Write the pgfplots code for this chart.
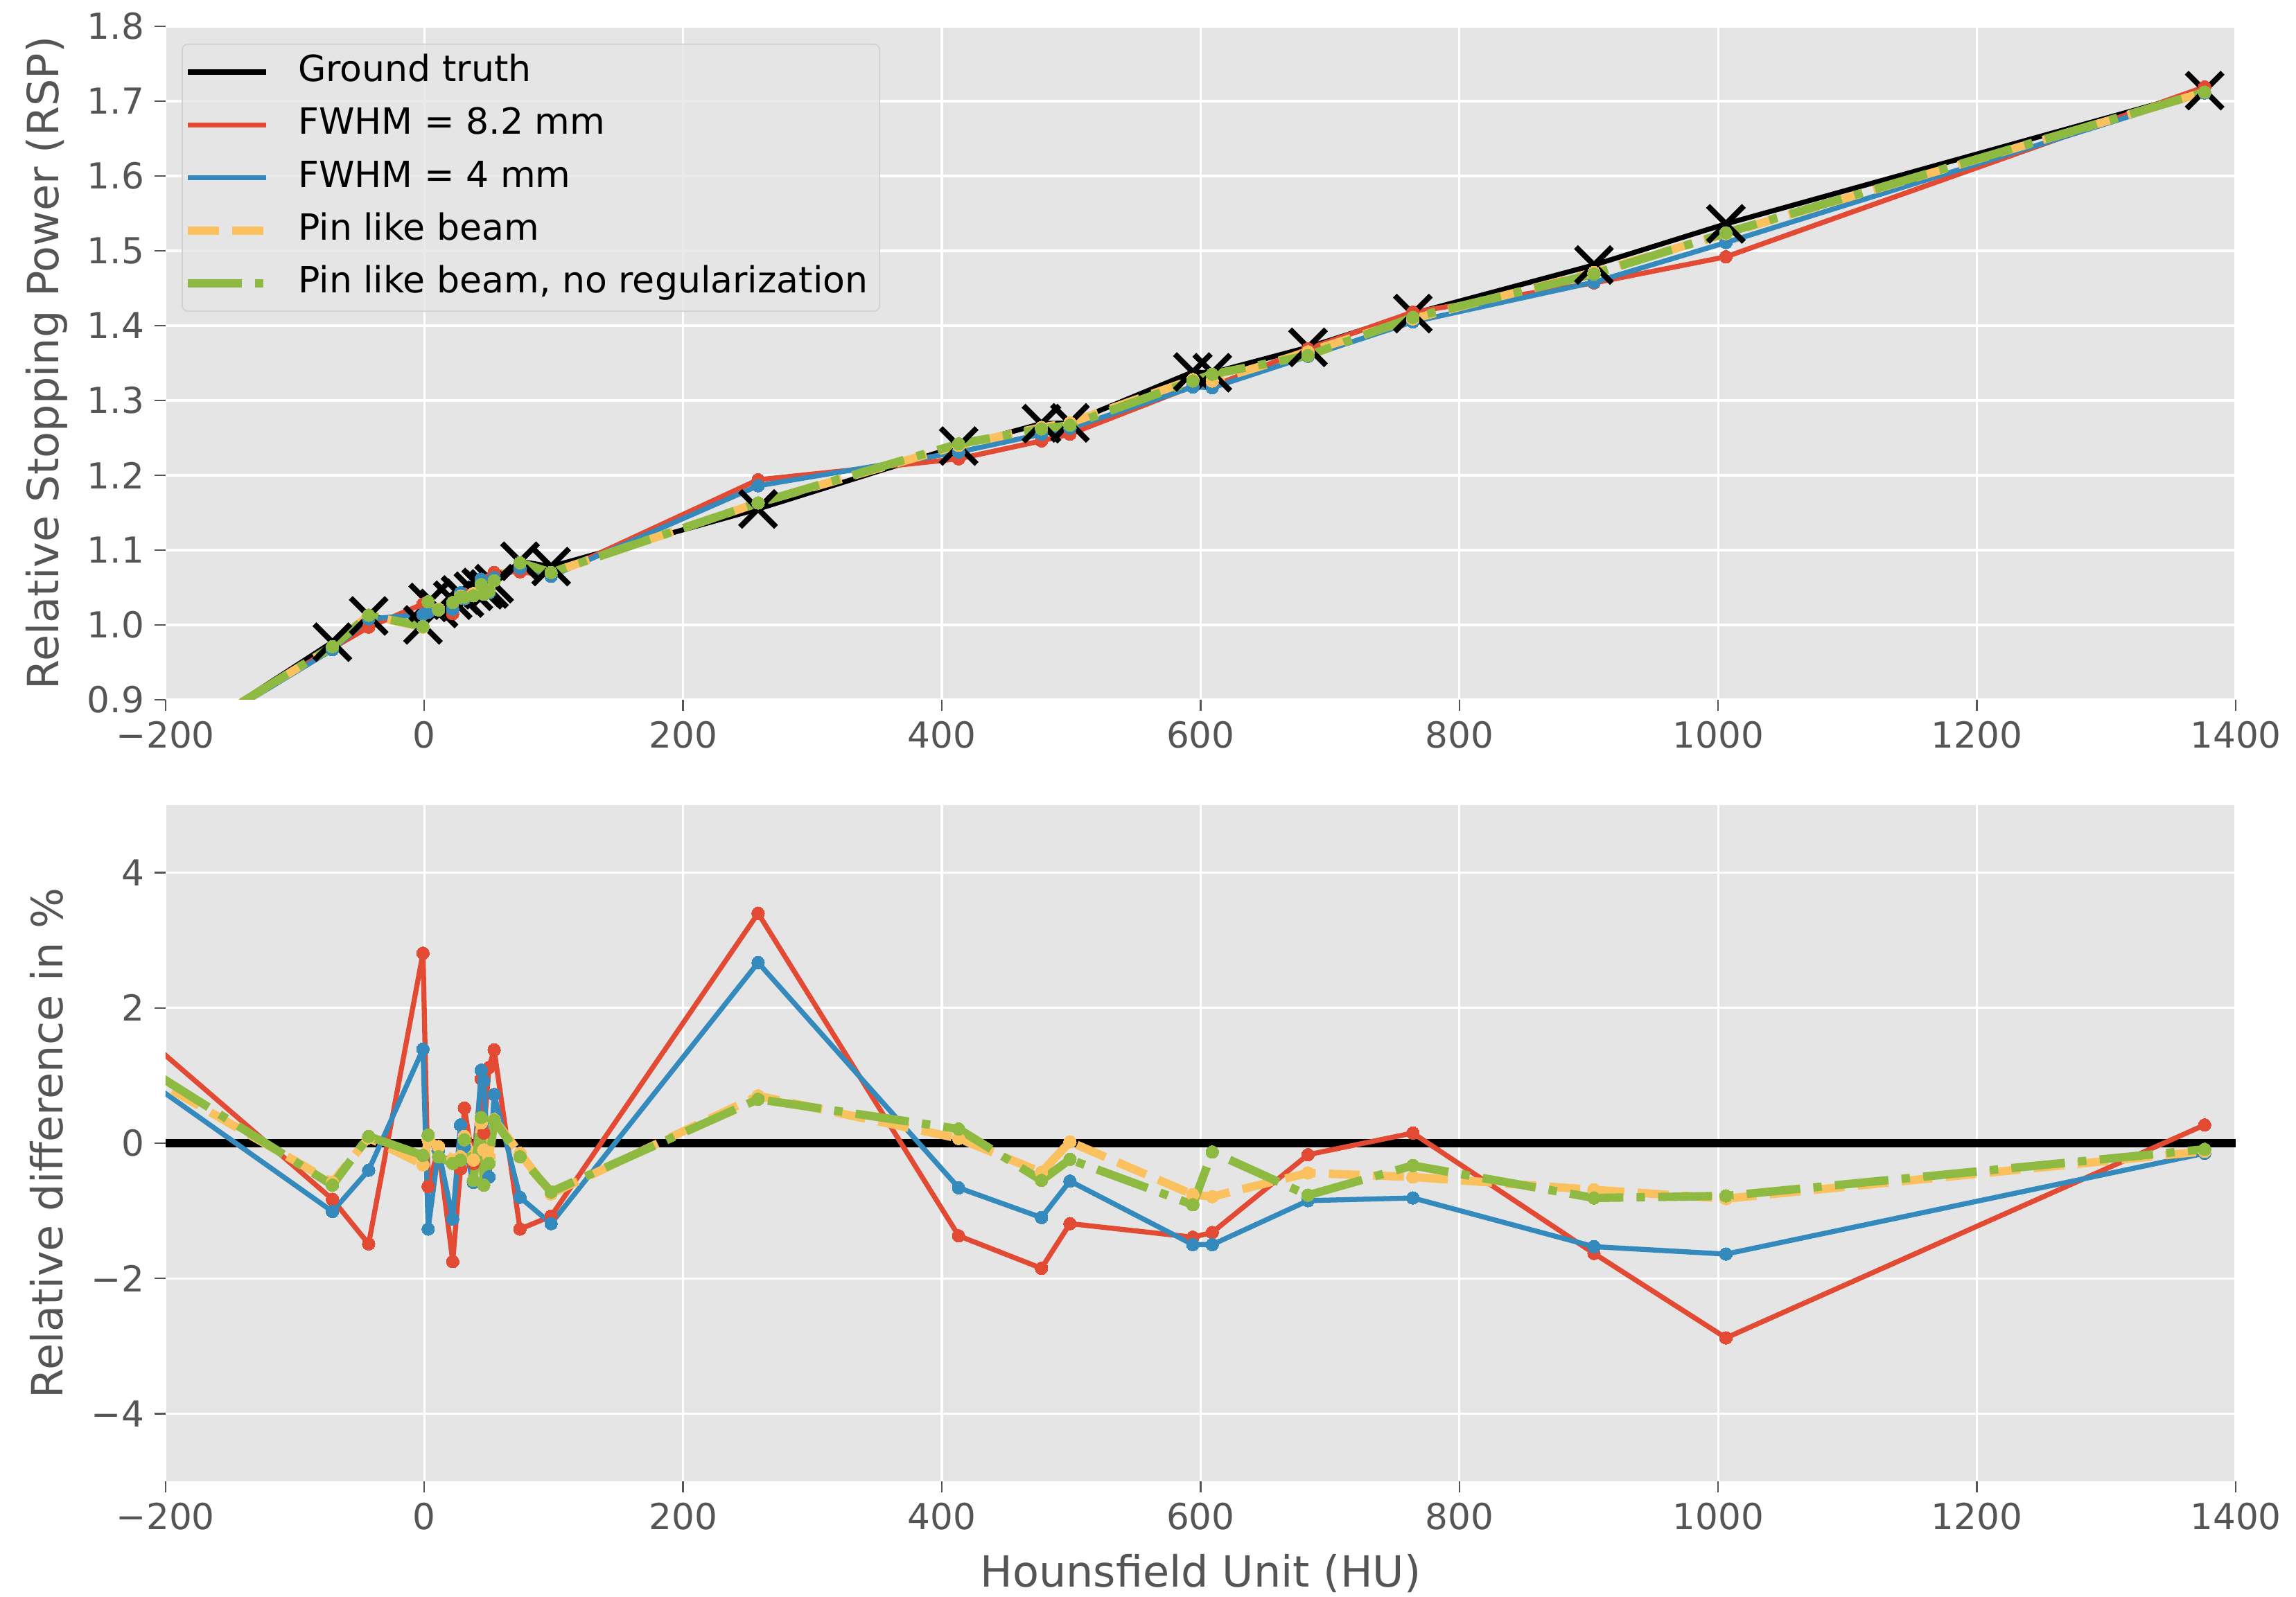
\documentclass[border=0pt]{standalone}
\usepackage{fontspec}
\setmainfont{DejaVu Sans}
\usepackage{pgfplots}
\usepackage{pgfplotstable}
\pgfplotsset{compat=1.18}

\definecolor{panel}{HTML}{E5E5E5}
\definecolor{tickgray}{HTML}{555555}
\definecolor{legedge}{HTML}{D1D1D1}
\definecolor{ggred}{HTML}{E24A33}
\definecolor{ggblue}{HTML}{348ABD}
\definecolor{ggyellow}{HTML}{FBC15E}
\definecolor{gggreen}{HTML}{8EBA42}

% RSP: ground truth and reconstructions
\pgfplotstableread{
hu    gt    red   blue  pin   pinnr
-550  0.440 0.471 0.464 0.461 0.463
-71   0.977 0.969 0.967 0.971 0.971
-43   1.012 0.997 1.008 1.013 1.013
-1    1.000 1.028 1.014 0.997 0.998
3     1.030 1.023 1.017 1.031 1.031
11    1.022 1.021 1.021 1.021 1.020
22    1.033 1.015 1.021 1.030 1.030
28    1.040 1.036 1.043 1.038 1.037
31    1.036 1.041 1.035 1.037 1.037
38    1.045 1.042 1.039 1.042 1.039
44    1.050 1.060 1.061 1.053 1.054
46    1.047 1.049 1.057 1.046 1.041
50    1.048 1.060 1.043 1.046 1.045
54    1.055 1.070 1.063 1.059 1.059
74    1.085 1.071 1.076 1.083 1.083
98    1.078 1.066 1.065 1.070 1.070
258   1.155 1.194 1.186 1.163 1.163
413   1.239 1.222 1.231 1.240 1.242
477   1.269 1.246 1.255 1.264 1.262
499   1.270 1.255 1.263 1.270 1.267
594   1.338 1.319 1.318 1.328 1.326
609   1.337 1.319 1.317 1.326 1.335
683   1.371 1.369 1.359 1.365 1.360
764   1.416 1.418 1.405 1.409 1.411
904   1.481 1.457 1.458 1.471 1.469
1006  1.536 1.492 1.511 1.523 1.524
1376  1.714 1.719 1.711 1.712 1.712
}\rsptable

% relative difference to ground truth in percent
\pgfplotstableread{
hu    red   blue  pin   pinnr
-550  7.08  5.47  4.69  5.14
-71  -0.83 -1.01 -0.58 -0.62
-43  -1.49 -0.40  0.08  0.10
-1    2.81  1.39 -0.32 -0.18
3    -0.64 -1.27  0.05  0.12
11   -0.08 -0.10 -0.05 -0.20
22   -1.75 -1.12 -0.25 -0.30
28   -0.38  0.27 -0.20 -0.25
31    0.52 -0.05  0.10  0.05
38   -0.30 -0.58 -0.25 -0.55
44    0.95  1.08  0.30  0.38
46    0.15  0.92 -0.10 -0.62
50    1.12 -0.50 -0.20 -0.30
54    1.38  0.72  0.35  0.34
74   -1.27 -0.80 -0.15 -0.20
98   -1.08 -1.19 -0.75 -0.72
258   3.40  2.67  0.70  0.65
413  -1.37 -0.66  0.07  0.21
477  -1.85 -1.10 -0.43 -0.55
499  -1.19 -0.56  0.02 -0.24
594  -1.39 -1.50 -0.76 -0.91
609  -1.32 -1.50 -0.79 -0.13
683  -0.17 -0.85 -0.44 -0.77
764   0.15 -0.81 -0.50 -0.33
904  -1.63 -1.53 -0.69 -0.81
1006 -2.88 -1.64 -0.82 -0.78
1376  0.27 -0.15 -0.12 -0.09
}\difftable

\pgfplotsset{
  ggpanel/.style={
    scale only axis,
    width=716.93pt,
    xmin=-200, xmax=1400,
    axis background/.style={fill=panel},
    axis line style={draw=none},
    grid=major,
    major grid style={white, line width=0.8pt},
    tick align=outside,
    tick pos=left,
    major tick length=3.85pt,
    tick style={tickgray, line width=0.6pt},
    ticklabel style={font=\fontsize{12.4}{14}\selectfont, text=tickgray},
    label style={font=\fontsize{14.9}{17}\selectfont, text=tickgray},
    xtick={-200,0,...,1400},
    xticklabels={−200,0,200,400,600,800,1000,1200,1400},
    ylabel style={at={(axis description cs:-0.0573,0.5)}, anchor=center},
    clip=true,
  },
  redline/.style={ggred, line width=1.75pt, line join=round, mark=*, mark size=2.2pt, mark options={solid, fill=ggred, draw=ggred, line width=0pt}},
  blueline/.style={ggblue, line width=1.75pt, line join=round, mark=*, mark size=2.2pt, mark options={solid, fill=ggblue, draw=ggblue, line width=0pt}},
  pinline/.style={ggyellow, line width=2.9pt, line join=round, dash pattern=on 10.7pt off 4.6pt, mark=*, mark size=2.2pt, mark options={solid, fill=ggyellow, draw=ggyellow, line width=0pt}},
  pinnrline/.style={gggreen, line width=2.9pt, line join=round, dash pattern=on 18.6pt off 4.6pt on 2.9pt off 4.6pt, mark=*, mark size=2.2pt, mark options={solid, fill=gggreen, draw=gggreen, line width=0pt}},
}

\begin{document}
\begin{tikzpicture}
\useasboundingbox (0,0) rectangle (795.12pt,553.2pt);

% upper panel: RSP against HU
\begin{axis}[
  ggpanel,
  at={(57.31pt,310.8pt)}, anchor=south west,
  height=233.28pt,
  ymin=0.9, ymax=1.8,
  ytick={0.9,1.0,...,1.8},
  yticklabels={0.9,1.0,1.1,1.2,1.3,1.4,1.5,1.6,1.7,1.8},
  ylabel={Relative Stopping Power (RSP)},
  legend cell align=left,
  legend image code/.code={\draw[#1] (0pt,0pt) -- (27pt,0pt);},
  legend style={
    at={(axis description cs:0.0078,0.9743)}, anchor=north west,
    fill=panel, fill opacity=0.8, text opacity=1,
    draw=legedge, draw opacity=1, rounded corners=2pt,
    inner xsep=0.55pt, inner ysep=0.5pt,
    font=\fontsize{12.5}{14}\selectfont,
    nodes={inner xsep=3.5pt, inner ysep=3pt, text height=9.4pt, text depth=2.9pt},
    column sep=6.2pt,
  },
]
\addplot[black, line width=1.75pt, line join=round] table[x=hu, y=gt] {\rsptable};
\addlegendentry{Ground truth}
\addplot[black, only marks, mark=x, mark size=8.8pt, mark options={line width=1.9pt}, forget plot] table[x=hu, y=gt] {\rsptable};
\addplot[redline] table[x=hu, y=red] {\rsptable};
\addlegendentry{FWHM = 8.2 mm}
\addplot[blueline] table[x=hu, y=blue] {\rsptable};
\addlegendentry{FWHM = 4 mm}
\addplot[pinline] table[x=hu, y=pin] {\rsptable};
\addlegendentry{Pin like beam}
\addplot[pinnrline] table[x=hu, y=pinnr] {\rsptable};
\addlegendentry{Pin like beam, no regularization}
\end{axis}

% lower panel: relative difference
\begin{axis}[
  ggpanel,
  at={(57.31pt,40.08pt)}, anchor=south west,
  height=234.24pt,
  ymin=-5, ymax=5,
  ytick={-4,-2,0,2,4},
  yticklabels={−4,−2,0,2,4},
  ylabel={Relative difference in \%},
  xlabel={Hounsfield Unit (HU)},
  xlabel style={at={(axis description cs:0.5,-0.136)}, anchor=center},
]
\addplot[black, line width=2.7pt] coordinates {(-200,0) (1400,0)};
\addplot[redline] table[x=hu, y=red] {\difftable};
\addplot[blueline] table[x=hu, y=blue] {\difftable};
\addplot[pinline] table[x=hu, y=pin] {\difftable};
\addplot[pinnrline] table[x=hu, y=pinnr] {\difftable};
\end{axis}
\end{tikzpicture}
\end{document}
